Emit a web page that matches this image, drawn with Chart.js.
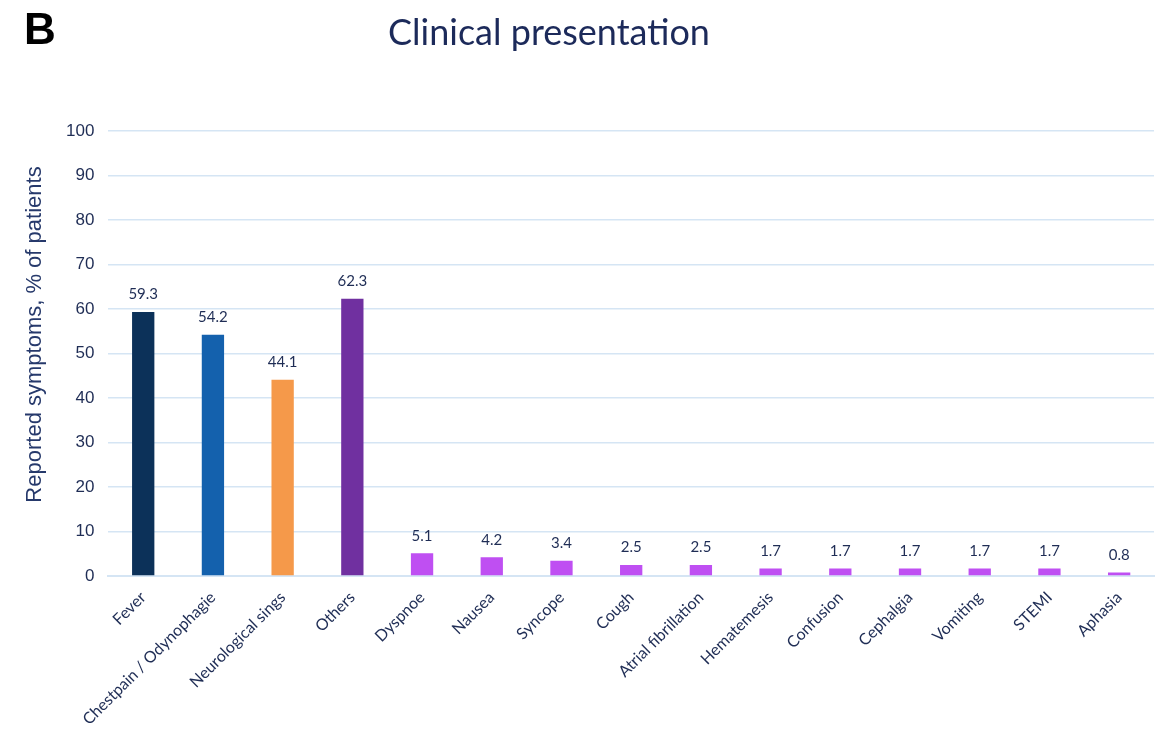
<!DOCTYPE html>
<html>
<head>
<meta charset="utf-8">
<script src="https://cdn.jsdelivr.net/npm/chart.js@4.4.1/dist/chart.umd.min.js"></script>
<style>
  html, body { margin: 0; padding: 0; background: #fff; }
  #wrap { position: relative; width: 1164px; height: 733px; }
  #panel { position: absolute; left: 24px; top: 4px; font: bold 44px "Liberation Sans", Arial, sans-serif; color: #000; }
  #title { position: absolute; left: 388px; top: 9px; font: 36px Lato, "Open Sans", sans-serif; color: #1c2a5a; }
</style>
</head>
<body>
<div id="wrap">
  <canvas id="chart" width="1164" height="733"></canvas>
  <div id="panel">B</div>
  <div id="title">Clinical presentation</div>
</div>
<script>
// ── Data ────────────────────────────────────────────────────────
const symptoms = ['Fever', 'Chestpain / Odynophagie', 'Neurological sings', 'Others', 'Dyspnoe',
                  'Nausea', 'Syncope', 'Cough', 'Atrial fibrillation', 'Hematemesis',
                  'Confusion', 'Cephalgia', 'Vomiting', 'STEMI', 'Aphasia'];
const percentPatients = [59.3, 54.2, 44.1, 62.3, 5.1, 4.2, 3.4, 2.5, 2.5, 1.7, 1.7, 1.7, 1.7, 1.7, 0.8];
const barColors = ['#0c3159', '#1461ad', '#f5994a', '#7030a0', '#bf4ff2',
                   '#bf4ff2', '#bf4ff2', '#bf4ff2', '#bf4ff2', '#bf4ff2',
                   '#bf4ff2', '#bf4ff2', '#bf4ff2', '#bf4ff2', '#bf4ff2'];
const yTitle = 'Reported symptoms, % of patients';

const textColor = '#1f2d55';
const gridColor = '#d5e5f4';

// ── Value labels above bars + y title (sits a bit above centre) ──
const valueLabels = {
    id: 'valueLabels',
    afterDatasetsDraw(chart) {
        const ctx = chart.ctx;
        const meta = chart.getDatasetMeta(0);
        ctx.save();
        ctx.font = '15px Lato, "Open Sans", sans-serif';
        ctx.fillStyle = textColor;
        ctx.textAlign = 'center';
        ctx.textBaseline = 'bottom';
        meta.data.forEach((bar, i) => {
            ctx.fillText(percentPatients[i].toFixed(1), bar.x, bar.y - 10);
        });
        const area = chart.chartArea;
        ctx.translate(35, (area.top + area.bottom) / 2 - 19);
        ctx.rotate(-Math.PI / 2);
        ctx.font = '22px "Liberation Sans", Arial, sans-serif';
        ctx.fillStyle = '#26396b';
        ctx.textBaseline = 'middle';
        ctx.fillText(yTitle, 0, 0);
        ctx.restore();
    }
};

new Chart(document.getElementById('chart'), {
    type: 'bar',
    data: {
        labels: symptoms,
        datasets: [{
            data: percentPatients,
            backgroundColor: barColors,
            barPercentage: 0.32,
            categoryPercentage: 1.0,
        }]
    },
    options: {
        responsive: false,
        animation: false,
        layout: { padding: { top: 131, left: 52, right: 10, bottom: 0 } },
        plugins: {
            legend: { display: false },
            tooltip: { enabled: false }
        },
        scales: {
            x: {
                grid: { display: false },
                border: { color: gridColor, width: 2 },
                ticks: { color: textColor, font: { family: 'Lato, "Open Sans", sans-serif', size: 16 },
                         minRotation: 45, maxRotation: 45, padding: 4 }
            },
            y: {
                min: 0, max: 100,
                grid: { color: gridColor, lineWidth: 1.5, drawTicks: false },
                border: { display: false },
                ticks: { stepSize: 10, color: textColor, padding: 14,
                         font: { family: '"Liberation Sans", Arial, sans-serif', size: 17 } }
            }
        }
    },
    plugins: [valueLabels]
});
</script>
</body>
</html>
